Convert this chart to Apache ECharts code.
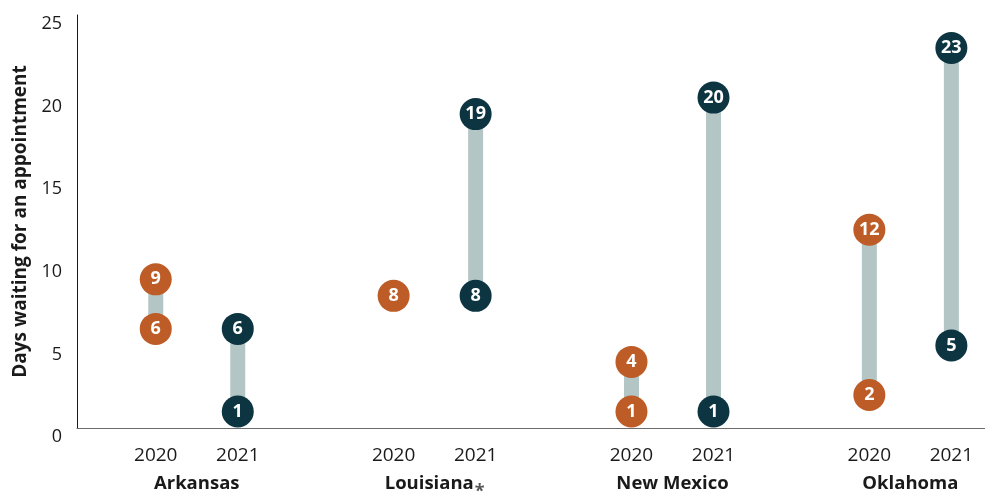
<!DOCTYPE html>
<html>
<head>
<meta charset="utf-8">
<script src="https://cdn.jsdelivr.net/npm/echarts@6/dist/echarts.min.js"></script>
<style>
  html, body { margin: 0; padding: 0; background: #fff; }
  #chart { width: 985px; height: 494px; }
</style>
</head>
<body>
<div id="chart"></div>
<script>
const states = ['Arkansas', 'Louisiana', 'New Mexico', 'Oklahoma']
const years = ['2020', '2021']
const high2020 = [9, 8, 4, 12]
const low2020 = [6, 8, 1, 2]
const high2021 = [6, 19, 20, 23]
const low2021 = [1, 8, 1, 5]
const yTicks = [0, 5, 10, 15, 20, 25]

// x slot of a state / year pair (groups are spread a bit wider than years)
const GROUP_STEP = 2.9
function slot (i, j) { return i * GROUP_STEP + j }

const yearSlots = []
const groupMid = []
states.forEach((s, i) => {
  years.forEach((y, j) => yearSlots.push(slot(i, j)))
  groupMid.push(slot(i, 0.5))
})

function nearest (arr, v) {
  let best = 0
  arr.forEach((a, k) => { if (Math.abs(a - v) < Math.abs(arr[best] - v)) best = k })
  return best
}

const ranges = []
const dots2020 = []
const dots2021 = []
states.forEach((s, i) => {
  ranges.push([slot(i, 0), low2020[i], high2020[i]])
  ranges.push([slot(i, 1), low2021[i], high2021[i]])
  dots2020.push([slot(i, 0), high2020[i]])
  if (low2020[i] !== high2020[i]) dots2020.push([slot(i, 0), low2020[i]])
  dots2021.push([slot(i, 1), high2021[i]])
  if (low2021[i] !== high2021[i]) dots2021.push([slot(i, 1), low2021[i]])
})

const FONT = '"Open Sans", sans-serif'
const xMin = -0.96
const xMax = 10.11

const chart = echarts.init(document.getElementById('chart'))
const dotLabel = {
  show: true,
  position: 'inside',
  color: '#fff',
  fontFamily: FONT,
  fontWeight: 'bold',
  fontSize: 18,
  formatter: p => String(p.value[1])
}
chart.setOption({
  backgroundColor: '#fff',
  animation: false,
  grid: { left: 77, right: 0, top: 15, bottom: 66, outerBoundsMode: 'none', containLabel: false },
  xAxis: [{
    type: 'value',
    min: xMin,
    max: xMax,
    splitLine: { show: false },
    axisLine: { show: true, onZero: false, lineStyle: { color: '#6b6b6b', width: 1 } },
    axisTick: { show: false },
    axisLabel: {
      customValues: yearSlots,
      margin: 18,
      color: '#1a1a1a',
      fontFamily: FONT,
      fontSize: 19,
      formatter: v => years[nearest(yearSlots, v) % 2]
    }
  }, {
    type: 'value',
    position: 'bottom',
    min: xMin,
    max: xMax,
    splitLine: { show: false },
    axisLine: { show: false, onZero: false },
    axisTick: { show: false },
    axisLabel: {
      customValues: groupMid,
      margin: 46,
      color: '#1a1a1a',
      fontFamily: FONT,
      fontSize: 18.5,
      fontWeight: 'bold',
      formatter: v => {
        const s = states[nearest(groupMid, v)]
        return s === 'Louisiana' ? '{b|' + s + '}{s|*}' : s
      },
      rich: {
        b: { fontFamily: FONT, fontSize: 18.5, fontWeight: 'bold', color: '#1a1a1a', verticalAlign: 'top' },
        s: { fontFamily: FONT, fontSize: 18, color: '#555', verticalAlign: 'top', padding: [9, 0, 0, 1] }
      }
    }
  }],
  yAxis: {
    type: 'value',
    min: 0,
    max: 25,
    interval: 5,
    name: 'Days waiting for an appointment',
    nameLocation: 'middle',
    nameGap: 47,
    nameTextStyle: { color: '#1a1a1a', fontFamily: FONT, fontSize: 19, fontWeight: 'bold' },
    splitLine: { show: false },
    axisTick: { show: false },
    axisLine: { show: true, onZero: false, lineStyle: { color: '#1a1a1a', width: 1 } },
    axisLabel: {
      margin: 15,
      verticalAlign: 'top',
      color: '#1a1a1a',
      fontFamily: FONT,
      fontSize: 18,
      customValues: yTicks
    }
  },
  series: [{
    type: 'custom',
    data: ranges,
    renderItem (params, api) {
      const top = api.coord([api.value(0), api.value(2)])
      const bot = api.coord([api.value(0), api.value(1)])
      return {
        type: 'rect',
        shape: { x: top[0] - 7.5, y: top[1], width: 15, height: bot[1] - top[1] },
        style: { fill: '#b3c6c5' }
      }
    }
  }, {
    name: '2020',
    type: 'scatter',
    symbol: 'circle',
    symbolSize: 32,
    itemStyle: { color: '#bd5c26', opacity: 1 },
    label: dotLabel,
    data: dots2020
  }, {
    name: '2021',
    type: 'scatter',
    symbol: 'circle',
    symbolSize: 32,
    itemStyle: { color: '#0c3441', opacity: 1 },
    label: dotLabel,
    data: dots2021
  }]
})
</script>
</body>
</html>
